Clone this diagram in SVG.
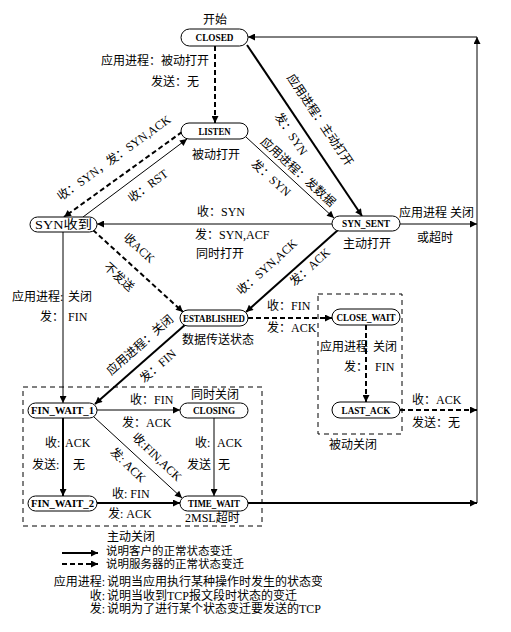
<svg xmlns="http://www.w3.org/2000/svg" width="511" height="632" viewBox="0 0 511 632">
<defs>
<marker id="ah" viewBox="0 0 10 10" refX="10" refY="5" markerWidth="9" markerHeight="7" markerUnits="userSpaceOnUse" orient="auto"><path d="M0,0 L10,5 L0,10 z" fill="#000"/></marker>
<clipPath id="legclip"><rect x="0" y="570" width="322" height="62"/></clipPath>
</defs>
<style>
text{font-family:"Liberation Serif","Noto Sans CJK SC",serif;font-size:12px;fill:#000}
.n rect{fill:#fff;stroke:#000;stroke-width:1}
.n text{font-weight:bold;font-size:9.5px;text-anchor:middle}
.thick{stroke:#000;stroke-width:2;fill:none}
.thin{stroke:#000;stroke-width:1;fill:none}
.dash{stroke:#000;stroke-width:2;fill:none;stroke-dasharray:5,3}
.box{stroke:#000;stroke-width:1;fill:none;stroke-dasharray:5,4}
.arr{marker-end:url(#ah)}
.m{text-anchor:middle}
.e{text-anchor:end}
.sm{font-size:11.5px}
</style>
<rect width="511" height="632" fill="#fff"/>
<g id="boxes">
<rect class="box" x="23" y="387" width="239" height="139"/>
<rect class="box" x="318" y="294" width="84" height="140"/>
</g>
<g id="connectors">
<path class="dash arr" d="M215,46 V123"/>
<path class="thick arr" d="M247,45 L362,216"/>
<path class="thin arr" d="M246,137 L334,218"/>
<path class="dash arr" d="M182,132 L64,217"/>
<path class="thin arr" d="M83,217 L187,139"/>
<path class="thin arr" d="M332,224 H97"/>
<path class="dash arr" d="M93,230 L183,312"/>
<path class="thick arr" d="M338,230 L246,312"/>
<path class="dash arr" d="M248,318 H332"/>
<path class="dash arr" d="M366,325 V402"/>
<path class="dash arr" d="M400,410 H477"/>
<path class="thick arr" d="M186,324 L95,404"/>
<path class="thin arr" d="M63,232 V403"/>
<path class="thin arr" d="M97,410 H180"/>
<path class="thin arr" d="M94,417 L182,498"/>
<path class="thick arr" d="M63,418 V496"/>
<path class="thin arr" d="M214,418 V496"/>
<path class="thick arr" d="M97,503 H180"/>
<path class="thick arr" d="M248,503 H477"/>
<path class="thin arr" d="M400,224 H477"/>
<path class="thin arr" d="M477,503 V37"/>
<path class="thin arr" d="M477,37 H248" stroke-width="1.5"/>
<path class="thick arr" d="M62,553 H98"/>
<path class="dash arr" d="M62,564 H98"/>
</g>
<g id="CLOSED" class="n"><rect x="181" y="29" width="67" height="17" rx="8.5"/><text x="214.5" y="41" textLength="38" lengthAdjust="spacingAndGlyphs">CLOSED</text></g>
<g id="LISTEN" class="n"><rect x="181" y="123" width="67" height="16" rx="8"/><text x="214.5" y="134.5" textLength="32" lengthAdjust="spacingAndGlyphs">LISTEN</text></g>
<g id="SYN_RCVD" class="n"><rect x="30" y="217" width="67" height="15" rx="7.5"/><text x="63.5" y="228.5" style="font-weight:normal;font-size:12px" textLength="57" lengthAdjust="spacingAndGlyphs">SYN收到</text></g>
<g id="SYN_SENT" class="n"><rect x="332" y="216" width="68" height="15" rx="7.5"/><text x="366" y="227" textLength="48" lengthAdjust="spacingAndGlyphs">SYN_SENT</text></g>
<g id="ESTABLISHED" class="n"><rect x="180" y="310" width="68" height="16" rx="8"/><text x="214" y="321.5" textLength="62" lengthAdjust="spacingAndGlyphs">ESTABLISHED</text></g>
<g id="CLOSE_WAIT" class="n"><rect x="332" y="309" width="68" height="16" rx="8"/><text x="366" y="320.5" textLength="59" lengthAdjust="spacingAndGlyphs">CLOSE_WAIT</text></g>
<g id="LAST_ACK" class="n"><rect x="332" y="402" width="68" height="16" rx="8"/><text x="366" y="413.5" textLength="49" lengthAdjust="spacingAndGlyphs">LAST_ACK</text></g>
<g id="FIN_WAIT_1" class="n"><rect x="28" y="403" width="69" height="15" rx="7.5"/><text x="62.5" y="414" textLength="63" lengthAdjust="spacingAndGlyphs">FIN_WAIT_1</text></g>
<g id="CLOSING" class="n"><rect x="180" y="403" width="68" height="15" rx="7.5"/><text x="214" y="414" textLength="42" lengthAdjust="spacingAndGlyphs">CLOSING</text></g>
<g id="FIN_WAIT_2" class="n"><rect x="28" y="496" width="69" height="15" rx="7.5"/><text x="62.5" y="507" textLength="63" lengthAdjust="spacingAndGlyphs">FIN_WAIT_2</text></g>
<g id="TIME_WAIT" class="n"><rect x="180" y="496" width="68" height="15" rx="7.5"/><text x="214" y="507" textLength="52" lengthAdjust="spacingAndGlyphs">TIME_WAIT</text></g>
<g id="labels">
<text x="215" y="24" class="m">开始</text>
<text x="209" y="65" class="e">应用进程：被动打开</text>
<text x="199" y="86" class="e">发送：无</text>
<text x="216" y="159" class="m">被动打开</text>
<text x="367" y="248" class="m">主动打开</text>
<text transform="translate(320,120) rotate(56)" y="4" class="m">应用进程：主动打开</text>
<text transform="translate(291,134) rotate(56)" y="4" class="m">发：SYN</text>
<text transform="translate(298,172) rotate(42.3)" y="4" class="m">应用进程：发数据</text>
<text transform="translate(271,178) rotate(42.3)" y="4" class="m">发：SYN</text>
<text transform="translate(114,158) rotate(-35.8)" y="4" class="m">收：SYN，发：SYN,ACK</text>
<text transform="translate(148,186) rotate(-36.8)" y="4" class="m">收：RST</text>
<text x="197" y="216">收：SYN</text>
<text x="195" y="239">发：SYN,ACF</text>
<text x="196" y="258">同时打开</text>
<text x="399" y="217">应用进程 关闭</text>
<text x="417" y="242">或超时</text>
<text transform="translate(139,248) rotate(42.3)" y="4" class="m">收ACK</text>
<text transform="translate(119,277) rotate(42.3)" y="4" class="m">不发送</text>
<text transform="translate(267,267) rotate(-42)" y="4" class="m">收：SYN,ACK</text>
<text transform="translate(310,267) rotate(-42)" y="4" class="m">发：ACK</text>
<text x="182" y="344">数据传送状态</text>
<text x="267" y="310">收：FIN</text>
<text x="267" y="332">发：ACK</text>
<text x="320" y="351">应用进程</text>
<text x="373" y="351">关闭</text>
<text x="344" y="371">发：</text>
<text x="375" y="371">FIN</text>
<text x="353" y="449" class="m">被动关闭</text>
<text x="412" y="404">收：ACK</text>
<text x="412" y="427">发送：无</text>
<text x="12" y="301">应用进程:</text>
<text x="68" y="301">关闭</text>
<text x="40" y="321">发：</text>
<text x="68" y="321">FIN</text>
<text transform="translate(140,345) rotate(-41.3)" y="4" class="m">应用进程：关闭</text>
<text transform="translate(158,366) rotate(-41.3)" y="4" class="m">发：FIN</text>
<text x="130" y="404">收：FIN</text>
<text x="122" y="427">发：ACK</text>
<text x="215" y="399" class="m">同时关闭</text>
<text x="45" y="447">收:</text>
<text x="65" y="447">ACK</text>
<text x="32" y="469">发送:</text>
<text x="73" y="469">无</text>
<text transform="translate(157,457) rotate(44)" y="4" class="m">收:FIN,ACK</text>
<text transform="translate(128,465) rotate(44)" y="4" class="m">发: ACK</text>
<text x="195" y="447">收:</text>
<text x="217" y="447">ACK</text>
<text x="187" y="469">发送</text>
<text x="218" y="469">无</text>
<text x="112" y="498">收: FIN</text>
<text x="108" y="518">发: ACK</text>
<text x="185" y="522">2MSL超时</text>
<text x="107" y="541">主动关闭</text>
</g>
<g id="legend">
<text x="106" y="555" class="sm">说明客户的正常状态变迁</text>
<text x="106" y="567.5" class="sm">说明服务器的正常状态变迁</text>
<text x="105" y="586" class="e">应用进程:</text>
<text x="105" y="600" class="e">收:</text>
<text x="105" y="613" class="e">发:</text>
<g clip-path="url(#legclip)">
<text x="107" y="586">说明当应用执行某种操作时发生的状态变迁</text>
<text x="107" y="600">说明当收到TCP报文段时状态的变迁</text>
<text x="107" y="613">说明为了进行某个状态变迁要发送的TCP</text>
</g>
</g>
</svg>
